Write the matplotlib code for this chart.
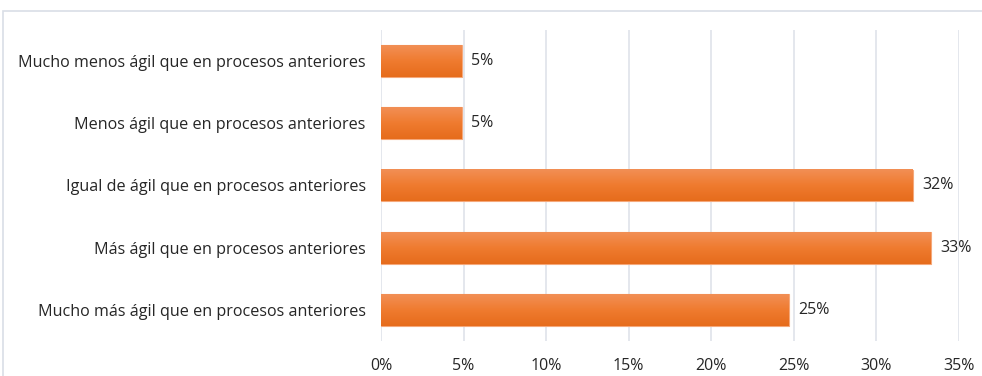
import matplotlib.pyplot as plt
import numpy as np
from matplotlib.patches import Rectangle
from matplotlib.colors import LinearSegmentedColormap
from matplotlib.ticker import PercentFormatter

categories = [
    "Mucho menos ágil que en procesos anteriores",
    "Menos ágil que en procesos anteriores",
    "Igual de ágil que en procesos anteriores",
    "Más ágil que en procesos anteriores",
    "Mucho más ágil que en procesos anteriores",
]
values = [0.049, 0.049, 0.322, 0.333, 0.247]
xticks = [0, 0.05, 0.10, 0.15, 0.20, 0.25, 0.30, 0.35]

plt.rcParams['font.family'] = ['Open Sans', 'DejaVu Sans']

W, H = 982, 376
fig = plt.figure(figsize=(W / 100, H / 100), dpi=100)
ax = fig.add_axes([381 / W, 1 - 341 / H, (959 - 381) / W, (341 - 30) / H])

# outer chart frame
fig.patches.append(Rectangle((3 / W, -0.1), 1.1, (H - 11) / H + 0.1,
                             transform=fig.transFigure, fill=False,
                             edgecolor='#d9dee6', linewidth=1.2))

y = np.arange(len(categories))
bars = ax.barh(y, values, height=0.51, color='#ee7a2e',
               edgecolor='#f5a87a', linewidth=0.8, zorder=2)

# vertical shading inside each bar: light on top, darker at the bottom
cmap = LinearSegmentedColormap.from_list('shade', ['#f28f55', '#ef7b2f', '#e66c1c'])
grad = np.linspace(0, 1, 64).reshape(-1, 1)
for b in bars:
    x0, y0, w, h = b.get_x(), b.get_y(), b.get_width(), b.get_height()
    ax.imshow(grad, cmap=cmap, aspect='auto', origin='upper',
              extent=(x0, x0 + w, y0 + h, y0), zorder=2.5)

for v, yy in zip(values, y):
    ax.text(v + 0.0058, yy, f"{v * 100:.0f}%", va='center', ha='left',
            fontsize=11.5, color='#262626')

ax.set_ylim(len(categories) - 0.5, -0.5)
ax.set_xlim(0, 0.35)
ax.set_yticks(y)
ax.set_yticklabels(categories, fontsize=11.6, color='#262626')
ax.set_xticks(xticks)
ax.xaxis.set_major_formatter(PercentFormatter(1, decimals=0))
ax.tick_params(axis='x', labelsize=11.5, colors='#262626', length=0, pad=12)
ax.tick_params(axis='y', length=0, pad=11)
ax.grid(axis='x', color='#dfe3ea', linewidth=1.2, zorder=0)
ax.set_axisbelow(True)
for s in ax.spines.values():
    s.set_visible(False)

fig.savefig('out.png', dpi=100)
